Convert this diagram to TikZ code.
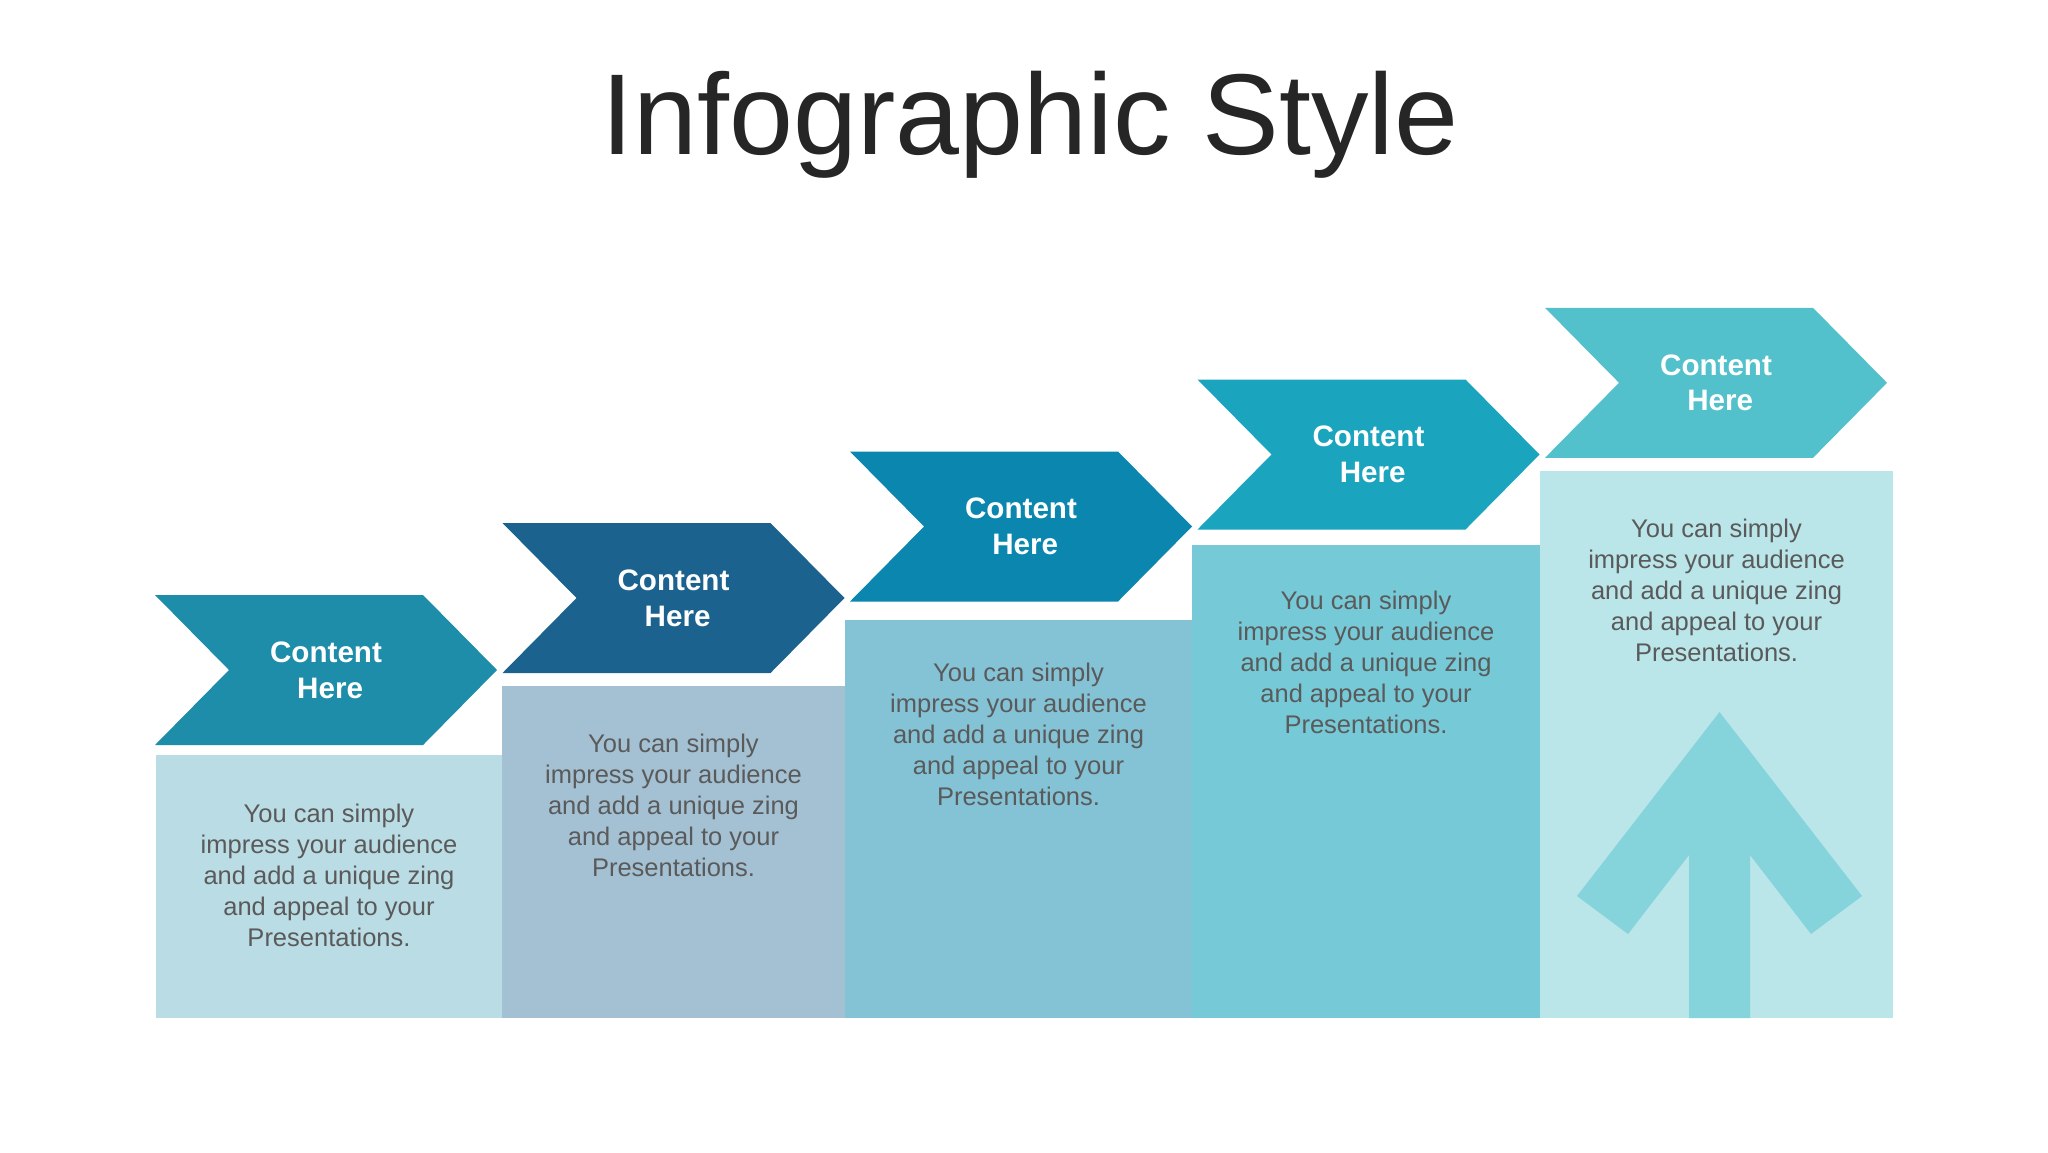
\documentclass[tikz,border=0pt]{standalone}
\usepackage{fontspec}
\setmainfont{Liberation Sans}
\usepackage{tikz}

\definecolor{chevA}{HTML}{1D8DA9}
\definecolor{chevB}{HTML}{1B628F}
\definecolor{chevC}{HTML}{0B86AE}
\definecolor{chevD}{HTML}{1AA4BE}
\definecolor{chevE}{HTML}{53C1CB}
\definecolor{boxA}{HTML}{BADCE4}
\definecolor{boxB}{HTML}{A3C1D3}
\definecolor{boxC}{HTML}{84C2D5}
\definecolor{boxD}{HTML}{76C9D7}
\definecolor{boxE}{HTML}{BAE5E9}
\definecolor{upArrow}{HTML}{86D4DB}
\definecolor{bodyGray}{HTML}{5A5A5A}
\definecolor{titleGray}{HTML}{262626}

\begin{document}
\begin{tikzpicture}[x=0.5pt,y=0.5pt,yscale=-1,xscale=1,
    chevlabel/.style={text=white, font=\fontsize{14.8}{17.85}\selectfont\bfseries, align=center, inner sep=0pt},
    bodytext/.style={text=bodyGray, font=\fontsize{12.75}{15.4}\selectfont, align=center, anchor=north, inner sep=0pt}]
        \useasboundingbox (0,0) rectangle (2048,1152);
        \fill[white] (0,0) rectangle (2048,1152);

        %Text: title
        \node[anchor=base, text=titleGray, font=\fontsize{57.5}{69}\selectfont, inner sep=0pt] (title) at (1030,154) {Infographic Style};

        %Shape: Rectangle [step 1]
        \fill[boxA] (156,755) rectangle (502,1018) ;
        %Shape: Rectangle [step 2]
        \fill[boxB] (502,686) rectangle (845,1018) ;
        %Shape: Rectangle [step 3]
        \fill[boxC] (845,620) rectangle (1192,1018) ;
        %Shape: Rectangle [step 4]
        \fill[boxD] (1192,545) rectangle (1540,1018) ;
        %Shape: Rectangle [step 5]
        \fill[boxE] (1540,471) rectangle (1893,1018) ;

        %Shape: Up Arrow [step 5]
        \fill[upArrow] (1719.5,712) -- (1862,896) -- (1811,934) -- (1750,855) -- (1750,1018) -- (1689,1018) -- (1689,855) -- (1628,934) -- (1577,896) -- cycle ;

        %Shape: Chevron [step 1]
        \fill[chevA] (155,595) -- (423,595) -- (497,670) -- (423,745) -- (155,745) -- (229,670) -- cycle ;
        %Shape: Chevron [step 2]
        \fill[chevB] (502.5,523) -- (770.5,523) -- (844.5,598) -- (770.5,673) -- (502.5,673) -- (576.5,598) -- cycle ;
        %Shape: Chevron [step 3]
        \fill[chevC] (850,451.5) -- (1118,451.5) -- (1192,526.5) -- (1118,601.5) -- (850,601.5) -- (924,526.5) -- cycle ;
        %Shape: Chevron [step 4]
        \fill[chevD] (1197.5,379.5) -- (1465.5,379.5) -- (1539.5,454.5) -- (1465.5,529.5) -- (1197.5,529.5) -- (1271.5,454.5) -- cycle ;
        %Shape: Chevron [step 5]
        \fill[chevE] (1545,307.8) -- (1813,307.8) -- (1887,382.8) -- (1813,457.8) -- (1545,457.8) -- (1619,382.8) -- cycle ;

        %Text: chevron labels
        \node[chevlabel] (labelA) at (326,670) {Content\\\hspace*{.28em}Here};
        \node[chevlabel] (labelB) at (673.5,598) {Content\\\hspace*{.28em}Here};
        \node[chevlabel] (labelC) at (1021,526.5) {Content\\\hspace*{.28em}Here};
        \node[chevlabel] (labelD) at (1368.5,454.5) {Content\\\hspace*{.28em}Here};
        \node[chevlabel] (labelE) at (1716,382.8) {Content\\\hspace*{.28em}Here};

        %Text: step bodies
        \node[bodytext] (bodyA) at (329,804) {You can simply\\impress your audience\\and add a unique zing\\and appeal to your\\Presentations.};
        \node[bodytext] (bodyB) at (673.5,734) {You can simply\\impress your audience\\and add a unique zing\\and appeal to your\\Presentations.};
        \node[bodytext] (bodyC) at (1018.5,663) {You can simply\\impress your audience\\and add a unique zing\\and appeal to your\\Presentations.};
        \node[bodytext] (bodyD) at (1366,591) {You can simply\\impress your audience\\and add a unique zing\\and appeal to your\\Presentations.};
        \node[bodytext] (bodyE) at (1716.5,519) {You can simply\\impress your audience\\and add a unique zing\\and appeal to your\\Presentations.};

    \end{tikzpicture}
\end{document}
